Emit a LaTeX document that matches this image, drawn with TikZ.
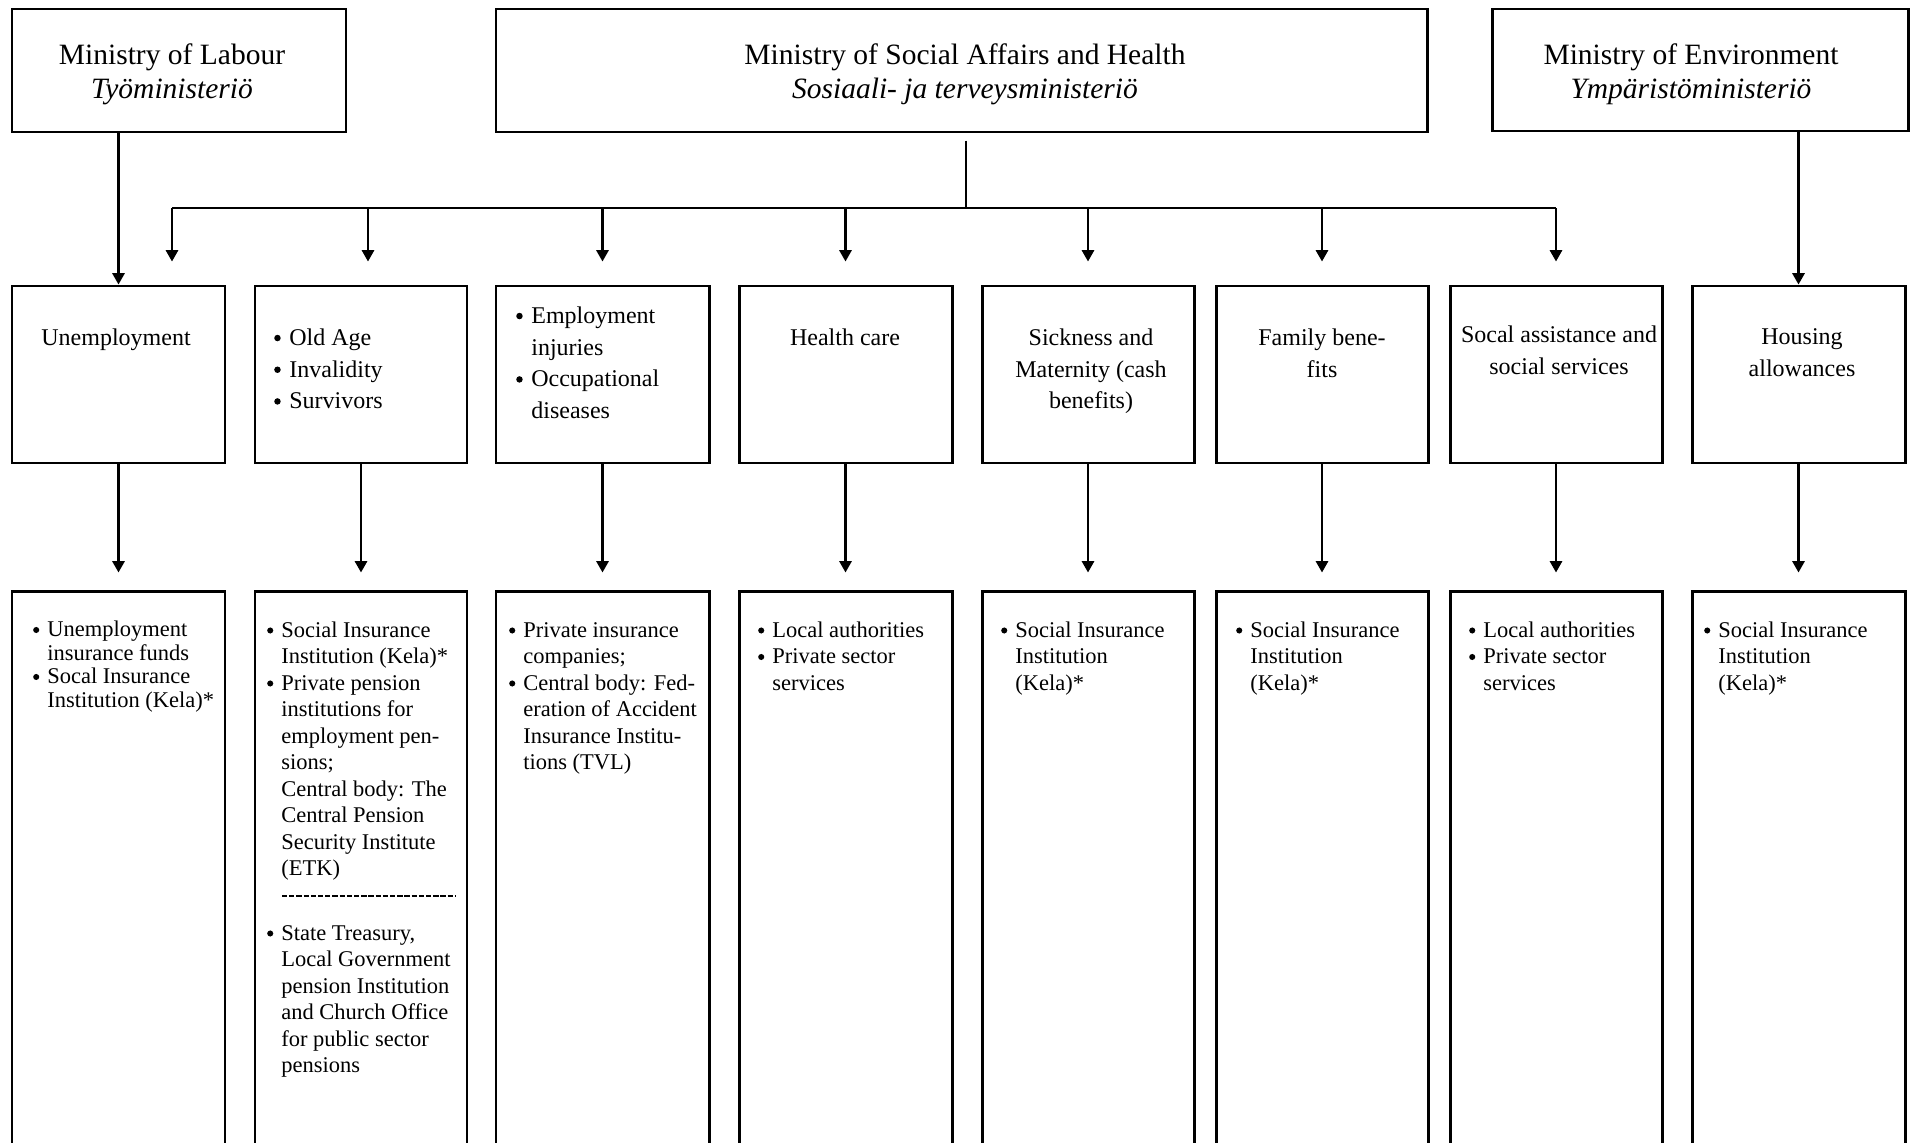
\documentclass[tikz,border=0pt]{standalone}
\usepackage{fontspec}
\setmainfont{Liberation Serif}
\usetikzlibrary{arrows.meta,fit}
\newcommand{\mybul}{\llap{\raisebox{0.17em}{\tikz\fill (0,0) circle (0.135em);}\hspace{0.36em}}}
\newcommand{\firstl}{\rule{0pt}{1em}}
\tikzset{
  box/.style={draw, line width=1.7pt, inner sep=0pt},
  conn/.style={line width=1.3pt},
  arr/.style={conn, -{Triangle[length=6.5pt,width=7pt]}},
  tA/.style={inner sep=0pt, anchor=north, align=center, font=\fontsize{16.79pt}{19.35pt}\selectfont},
  tB/.style={inner sep=0pt, anchor=north, align=center, font=\fontsize{13.66pt}{18.04pt}\selectfont},
  tBl/.style={tB, anchor=north west, align=left},
  tC/.style={inner sep=0pt, anchor=north west, align=left, font=\fontsize{12.8pt}{15.08pt}\selectfont},
  tCu/.style={tC, font=\fontsize{12.8pt}{13.37pt}\selectfont},
}
\begin{document}
\begin{tikzpicture}[x=0.02cm, y=-0.02cm]
\useasboundingbox (0,0) rectangle (1911,1143);
\clip (0,0) rectangle (1911,1143);

% ministries
\node[box, fit={(12,9) (346,132)}] (ml) {};
\node[box, fit={(496,9) (1427,132)}] (msah) {};
\node[box, fit={(1492,9) (1908,131)}] (me) {};
\node[tA] (tml) at (172,34.5) {\firstl Ministry of Labour\\\textit{Työministeriö}};
\node[tA] (tmsah) at (965,34.5) {\firstl Ministry of Social Affairs and Health\\\textit{Sosiaali- ja terveysministeriö}};
\node[tA] (tme) at (1691,34.5) {\firstl Ministry of Environment\\\textit{Ympäristöministeriö}};

% branches
\node[box, fit={(12,286) (225,463)}] (ra) {};
\node[box, fit={(255,286) (467,463)}] (rb) {};
\node[box, fit={(496,286) (709,463)}] (rc) {};
\node[box, fit={(739,286) (952,463)}] (rd) {};
\node[box, fit={(982,286) (1194,463)}] (re) {};
\node[box, fit={(1216,286) (1428,463)}] (rf) {};
\node[box, fit={(1450,286) (1662,463)}] (rg) {};
\node[box, fit={(1692,286) (1905,463)}] (rh) {};

\node[tB] (ta) at (116,321) {\firstl Unemployment};
\node[tBl] (tb) at (289,321) {\firstl\mybul Old Age\\\mybul Invalidity\\\mybul Survivors};
\node[tBl] (tc) at (531,299) {\firstl\mybul Employment\\injuries\\\mybul Occupational\\diseases};
\node[tB] (td) at (845,321) {\firstl Health care};
\node[tB] (te) at (1091,321) {\firstl Sickness and\\Maternity (cash\\benefits)};
\node[tB] (tf) at (1322,321) {\firstl Family bene-\\fits};
\node[tB] (tg) at (1559,318) {\firstl Socal assistance and\\social services};
\node[tB] (th) at (1802,320) {\firstl Housing\\allowances};

% institutions
\node[box, fit={(12,591) (225,1175)}] (ia) {};
\node[box, fit={(255,591) (467,1175)}] (ib) {};
\node[box, fit={(496,591) (709,1175)}] (ic) {};
\node[box, fit={(739,591) (952,1175)}] (id) {};
\node[box, fit={(982,591) (1194,1175)}] (ie) {};
\node[box, fit={(1216,591) (1428,1175)}] (if) {};
\node[box, fit={(1450,591) (1662,1175)}] (ig) {};
\node[box, fit={(1692,591) (1905,1175)}] (ih) {};

\node[tCu] (ua) at (47,614) {\firstl\mybul Unemployment\\insurance funds\\\mybul Socal Insurance\\Institution (Kela)*};
\node[tC] (ub) at (281,614.5) {\firstl\mybul Social Insurance\\Institution (Kela)*\\\mybul Private pension\\institutions for\\employment pen-\\sions;\\Central body: The\\Central Pension\\Security Institute\\(ETK)};
\draw[line width=1.2pt, dash pattern=on 3pt off 1.1pt] (282,896) -- (455,896);
\node[tC] (ub2) at (281,917.5) {\firstl\mybul State Treasury,\\Local Government\\pension Institution\\and Church Office\\for public sector\\pensions};
\node[tC] (uc) at (523,614.5) {\firstl\mybul Private insurance\\companies;\\\mybul Central body: Fed-\\eration of Accident\\Insurance Institu-\\tions (TVL)};
\node[tC] (ud) at (772,614.5) {\firstl\mybul Local authorities\\\mybul Private sector\\services};
\node[tC] (ue) at (1015,614.5) {\firstl\mybul Social Insurance\\Institution\\(Kela)*};
\node[tC] (uf) at (1250,614.5) {\firstl\mybul Social Insurance\\Institution\\(Kela)*};
\node[tC] (ug) at (1483,614.5) {\firstl\mybul Local authorities\\\mybul Private sector\\services};
\node[tC] (uh) at (1718,614.5) {\firstl\mybul Social Insurance\\Institution\\(Kela)*};

% connectors from ministries
\draw[arr] (ml.south -| ra.north) -- (ra.north);
\draw[arr] (me.south -| rh.north) -- (rh.north);
\coordinate (stem) at (966,208);
\coordinate (busL) at (172,208);
\coordinate (busR) at (1556,208);
\coordinate (dB) at (368,208);
\draw[conn, shorten <=4pt] (msah.south -| stem) -- (stem);
\draw[conn] (busL) -- (busR);
\draw[arr, shorten >=13.1pt] (busL) -- (busL |- ra.north);
\draw[arr, shorten >=13.1pt] (dB) -- (dB |- rb.north);
\draw[arr, shorten >=13.1pt] (rc.north |- busL) -- (rc.north);
\draw[arr, shorten >=13.1pt] (rd.north |- busL) -- (rd.north);
\draw[arr, shorten >=13.1pt] (re.north |- busL) -- (re.north);
\draw[arr, shorten >=13.1pt] (rf.north |- busL) -- (rf.north);
\draw[arr, shorten >=13.1pt] (busR) -- (busR |- rg.north);

% connectors branches -> institutions
\foreach \s/\t in {ra/ia, rb/ib, rc/ic, rd/id, re/ie, rf/if, rg/ig, rh/ih}
  \draw[arr, shorten >=9.7pt] (\s.south) -- (\t.north);
\end{tikzpicture}
\end{document}
